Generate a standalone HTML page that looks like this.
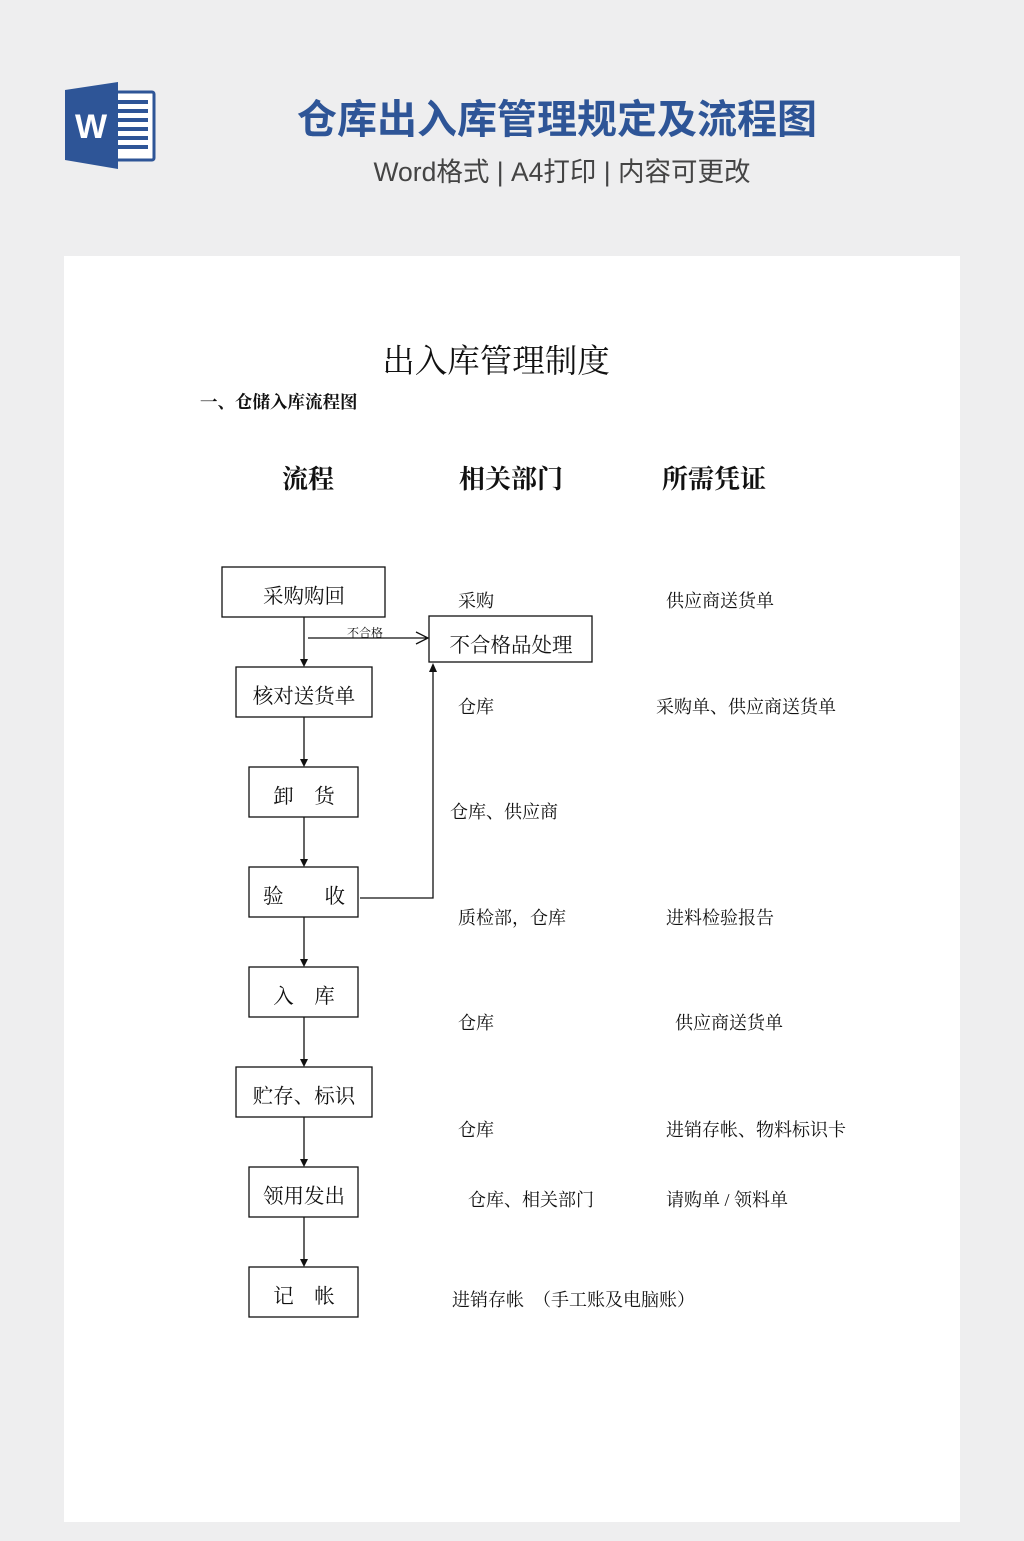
<!DOCTYPE html>
<html><head><meta charset="utf-8"><style>
body{margin:0;width:1024px;height:1536px;background:#eeeeef;overflow:hidden}
svg text{font-family:"Liberation Serif","Noto Serif CJK SC",serif;fill:#111}
</style></head><body>
<svg width="1024" height="1536" xmlns="http://www.w3.org/2000/svg">
<rect width="1024" height="1536" fill="#eeeeef"/>
<rect x="112" y="92" width="42" height="68" fill="#fff" stroke="#2e5597" stroke-width="3" rx="2"/>
<g fill="#2e5597"><rect x="118" y="100" width="30" height="4"/><rect x="118" y="109" width="30" height="4"/><rect x="118" y="118" width="30" height="4"/><rect x="118" y="127" width="30" height="4"/><rect x="118" y="136" width="30" height="4"/><rect x="118" y="145" width="30" height="4"/></g>
<polygon points="65,90 118,82 118,169 65,160" fill="#2e5597"/>
<text x="91" y="138" text-anchor="middle" style="font-family:'Liberation Sans',sans-serif;font-weight:bold;font-size:34px;fill:#fff">W</text>
<text x="557" y="133" text-anchor="middle" style="font-family:'Liberation Sans','Noto Sans CJK SC',sans-serif;font-weight:bold;font-size:40px;fill:#2e5597">仓库出入库管理规定及流程图</text>
<text x="562" y="181" text-anchor="middle" style="font-family:'Liberation Sans','Noto Sans CJK SC',sans-serif;font-size:26.5px;fill:#444">Word格式 | A4打印 | 内容可更改</text>
<rect x="64" y="256" width="896" height="1266" fill="#fff"/>
<text x="496" y="372" text-anchor="middle" style="font-size:32.5px">出入库管理制度</text>
<text x="200" y="408" style="font-size:17.5px;font-weight:bold">一、仓储入库流程图</text>
<g style="font-size:26px;font-weight:bold"><text x="308" y="488" text-anchor="middle">流程</text><text x="511" y="488" text-anchor="middle">相关部门</text><text x="714" y="488" text-anchor="middle">所需凭证</text></g>
<g fill="none" stroke="#111" stroke-width="1.3">
<rect x="222" y="567" width="163" height="50"/>
<rect x="429" y="616" width="163" height="46"/>
<rect x="236" y="667" width="136" height="50"/>
<rect x="249" y="767" width="109" height="50"/>
<rect x="249" y="867" width="109" height="50"/>
<rect x="249" y="967" width="109" height="50"/>
<rect x="236" y="1067" width="136" height="50"/>
<rect x="249" y="1167" width="109" height="50"/>
<rect x="249" y="1267" width="109" height="50"/>
<path d="M304 617V660M304 717V760M304 817V860M304 917V960M304 1017V1060M304 1117V1160M304 1217V1260"/>
<path d="M308 638H428M416 632L428 638L416 644"/>
<path d="M360 898H433V670"/>
</g>
<g fill="#111"><path d="M300 659L308 659L304 667Z"/><path d="M300 759L308 759L304 767Z"/><path d="M300 859L308 859L304 867Z"/><path d="M300 959L308 959L304 967Z"/><path d="M300 1059L308 1059L304 1067Z"/><path d="M300 1159L308 1159L304 1167Z"/><path d="M300 1259L308 1259L304 1267Z"/><path d="M429 672L437 672L433 663Z"/></g>
<g style="font-size:20.5px" text-anchor="middle">
<text x="304" y="603">采购购回</text><text x="511" y="652">不合格品处理</text><text x="304" y="703">核对送货单</text>
<text x="304" y="803">卸　货</text><text x="304" y="903">验　　收</text><text x="304" y="1003">入　库</text>
<text x="304" y="1103">贮存、标识</text><text x="304" y="1203">领用发出</text><text x="304" y="1303">记　帐</text>
</g>
<text x="347" y="637" style="font-size:12px">不合格</text>
<g style="font-size:18px">
<text x="458" y="607">采购</text><text x="666" y="607">供应商送货单</text>
<text x="458" y="713">仓库</text><text x="656" y="713">采购单、供应商送货单</text>
<text x="450" y="818">仓库、供应商</text>
<text x="458" y="924">质检部，仓库</text><text x="666" y="924">进料检验报告</text>
<text x="458" y="1029">仓库</text><text x="675" y="1029">供应商送货单</text>
<text x="458" y="1136">仓库</text><text x="666" y="1136">进销存帐、物料标识卡</text>
<text x="468" y="1206">仓库、相关部门</text><text x="666" y="1206">请购单 / 领料单</text>
<text x="452" y="1306">进销存帐　（手工账及电脑账）</text>
</g>
</svg>
</body></html>
